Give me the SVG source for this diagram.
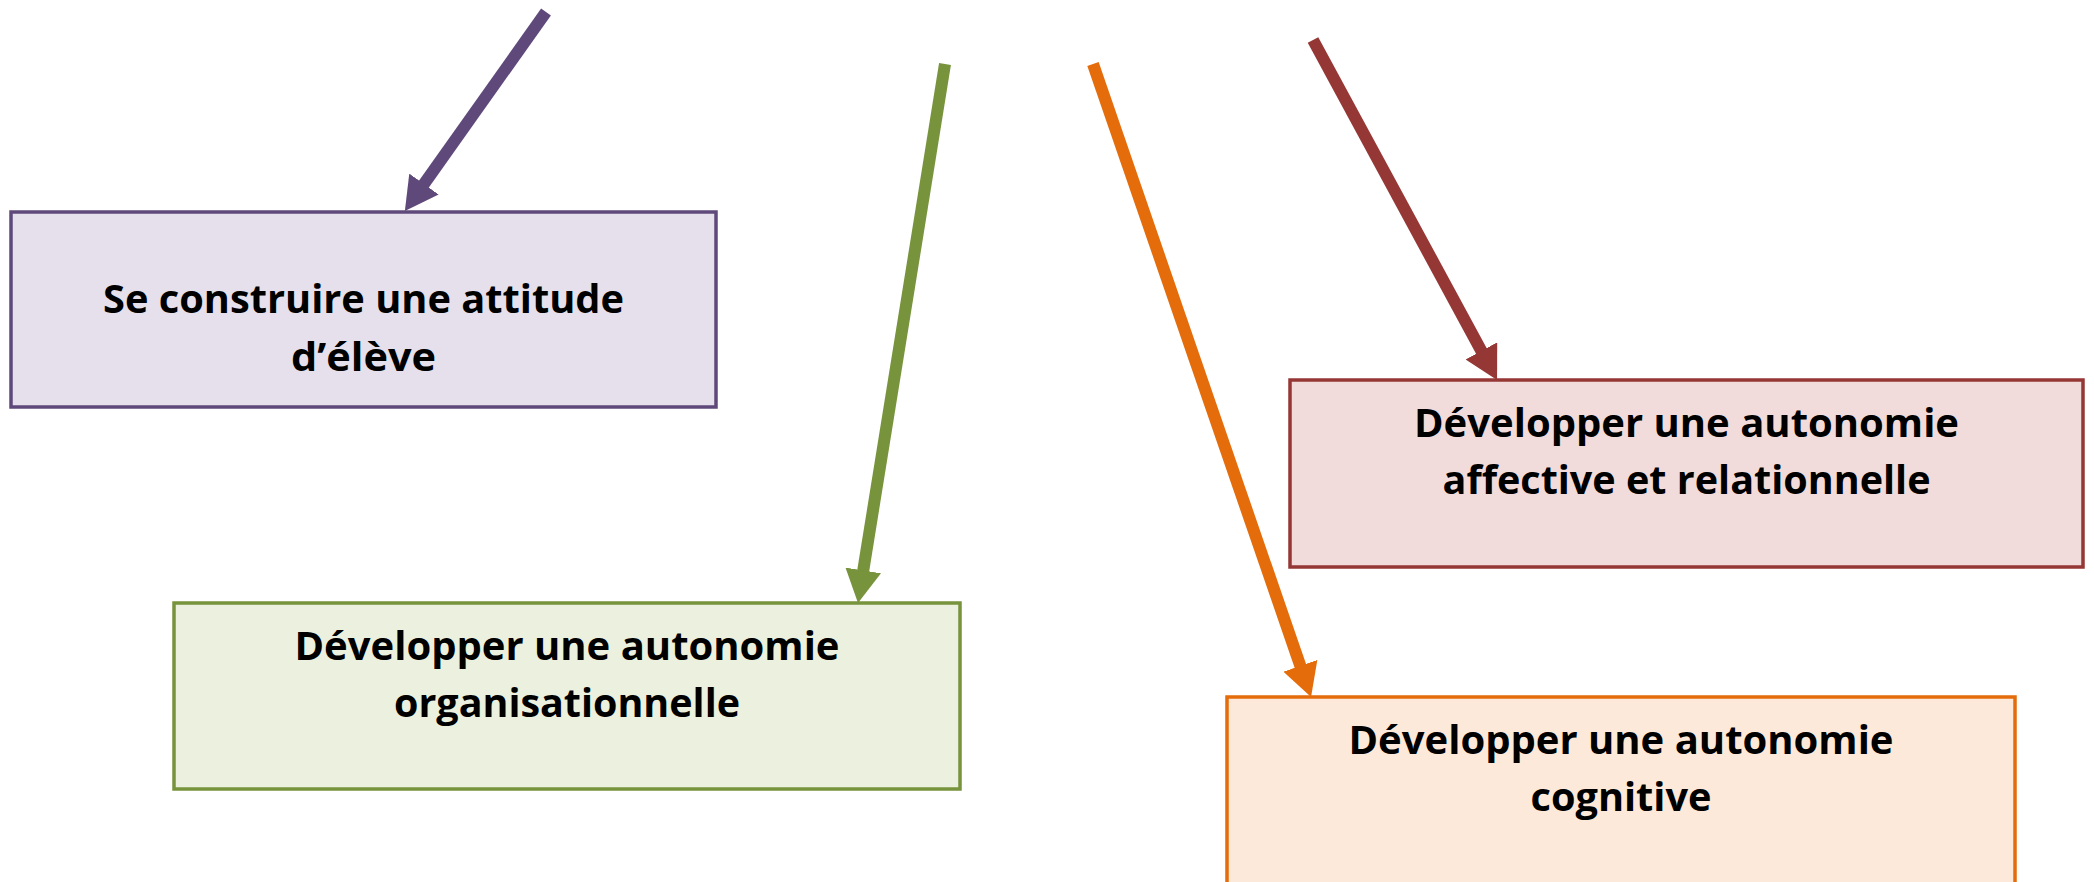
<svg xmlns="http://www.w3.org/2000/svg" width="2094" height="882" viewBox="0 0 2094 882">
<style>
.box{stroke-width:3.5}
.lbl{font-family:"Open Sans","Liberation Sans",sans-serif;font-weight:700;font-size:40px;fill:#000;text-anchor:middle}
.conn{fill:none;stroke-width:12;stroke-linecap:butt}
</style>
<defs>
<marker id="mP" viewBox="0 0 33 36" refX="11" refY="18" markerWidth="33" markerHeight="36" orient="auto" markerUnits="userSpaceOnUse"><path d="M0,0 L33,18 L0,36 z" fill="#5F497A"/></marker>
<marker id="mG" viewBox="0 0 33 36" refX="11" refY="18" markerWidth="33" markerHeight="36" orient="auto" markerUnits="userSpaceOnUse"><path d="M0,0 L33,18 L0,36 z" fill="#77933C"/></marker>
<marker id="mO" viewBox="0 0 33 36" refX="11" refY="18" markerWidth="33" markerHeight="36" orient="auto" markerUnits="userSpaceOnUse"><path d="M0,0 L33,18 L0,36 z" fill="#E46C0A"/></marker>
<marker id="mR" viewBox="0 0 33 36" refX="11" refY="18" markerWidth="33" markerHeight="36" orient="auto" markerUnits="userSpaceOnUse"><path d="M0,0 L33,18 L0,36 z" fill="#953735"/></marker>
</defs>
<rect width="2094" height="882" fill="#FFFFFF"/>
<g id="node-attitude">
<rect class="box" x="11" y="212" width="705" height="195" fill="#E5E0EC" stroke="#5F497A"/>
<text class="lbl" x="363.5" y="313" textLength="521" lengthAdjust="spacingAndGlyphs">Se construire une attitude</text>
<text class="lbl" x="363.5" y="370.5" textLength="145" lengthAdjust="spacingAndGlyphs">d’élève</text>
</g>
<g id="node-affective">
<rect class="box" x="1290" y="380" width="793" height="187" fill="#F2DCDB" stroke="#953735"/>
<text class="lbl" x="1686.5" y="437" textLength="545" lengthAdjust="spacingAndGlyphs">Développer une autonomie</text>
<text class="lbl" x="1686.5" y="494" textLength="488" lengthAdjust="spacingAndGlyphs">affective et relationnelle</text>
</g>
<g id="node-organisationnelle">
<rect class="box" x="174" y="603" width="786" height="186" fill="#EBF1DE" stroke="#77933C"/>
<text class="lbl" x="567" y="660" textLength="545" lengthAdjust="spacingAndGlyphs">Développer une autonomie</text>
<text class="lbl" x="567" y="717" textLength="346" lengthAdjust="spacingAndGlyphs">organisationnelle</text>
</g>
<g id="node-cognitive">
<rect class="box" x="1227" y="697" width="788" height="200" fill="#FDE9D9" stroke="#E46C0A"/>
<text class="lbl" x="1621" y="754" textLength="545" lengthAdjust="spacingAndGlyphs">Développer une autonomie</text>
<text class="lbl" x="1621" y="811" textLength="181" lengthAdjust="spacingAndGlyphs">cognitive</text>
</g>
<g id="connectors">
<line class="conn" x1="546" y1="12" x2="417.6" y2="193" stroke="#5F497A" marker-end="url(#mP)"/>
<line class="conn" x1="945" y1="64" x2="861.5" y2="581.3" stroke="#77933C" marker-end="url(#mG)"/>
<line class="conn" x1="1093" y1="64" x2="1303.9" y2="676.2" stroke="#E46C0A" marker-end="url(#mO)"/>
<line class="conn" x1="1313" y1="40" x2="1486.6" y2="360.6" stroke="#953735" marker-end="url(#mR)"/>
</g>
</svg>
